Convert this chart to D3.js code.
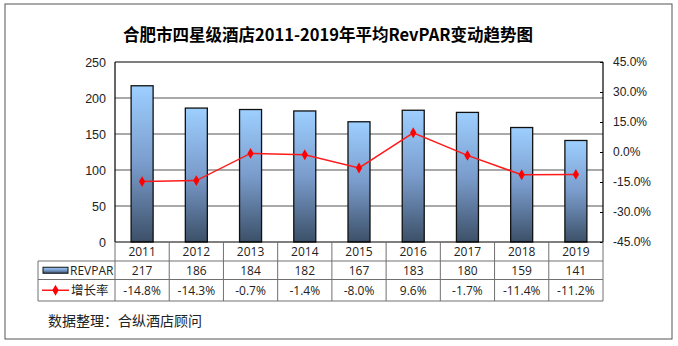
<!DOCTYPE html>
<html><head><meta charset="utf-8">
<script src="https://cdn.jsdelivr.net/npm/d3@7"></script>
<style>body{margin:0;background:#fff}</style>
</head><body>
<script>
const years = ["2011","2012","2013","2014","2015","2016","2017","2018","2019"];
const revpar = [217,186,184,182,167,183,180,159,141];
const growth = [-14.8,-14.3,-0.7,-1.4,-8.0,9.6,-1.7,-11.4,-11.2];
const leftTicks = [0,50,100,150,200,250];
const rightTicks = [-45,-30,-15,0,15,30,45];
const title = "合肥市四星级酒店2011-2019年平均RevPAR变动趋势图";
const source = "数据整理：合纵酒店顾问";

const pct = d => d.toFixed(1) + "%";

const W=678,H=346;
const svg=d3.select("body").append("svg").attr("width",W).attr("height",H);
const defs=svg.append("defs");
const g1=defs.append("linearGradient").attr("id","bg").attr("x1",0).attr("y1",0).attr("x2",0).attr("y2",1);
g1.append("stop").attr("offset","0%").attr("stop-color","#9dcfff");
g1.append("stop").attr("offset","50%").attr("stop-color","#7a9ccc");
g1.append("stop").attr("offset","100%").attr("stop-color","#3c5068");

svg.append("rect").attr("x",5).attr("y",4).attr("width",667).attr("height",335)
  .attr("fill","#fff").attr("stroke","#555").attr("stroke-width",1);

svg.append("text").attr("x",328).attr("y",41).attr("text-anchor","middle")
  .attr("font-family","Noto Sans CJK SC").attr("font-weight","bold").attr("font-size",16.5)
  .text(title);

const L=115,R=603,T=62,B=242;
const x=d3.scaleBand().domain(years).range([L,R]);
const y=d3.scaleLinear().domain([0,250]).range([B,T]);
const y2=d3.scaleLinear().domain([-45,45]).range([B,T]);

svg.append("g").selectAll("line").data(leftTicks.filter(d=>d>0&&d<250)).join("line")
  .attr("x1",L).attr("x2",R).attr("y1",d=>y(d)).attr("y2",d=>y(d))
  .attr("stroke","#8c8c8c").attr("stroke-width",1.3);

const bw=22;
svg.append("g").selectAll("rect").data(revpar).join("rect")
  .attr("x",(d,i)=>x(years[i])+x.bandwidth()/2-bw/2).attr("width",bw)
  .attr("y",d=>y(d)).attr("height",d=>B-y(d))
  .attr("fill","url(#bg)").attr("stroke","#111").attr("stroke-width",1.3);

svg.append("line").attr("x1",L).attr("x2",R).attr("y1",T).attr("y2",T).attr("stroke","#000").attr("stroke-width",1.2);
svg.append("line").attr("x1",L).attr("x2",L).attr("y1",T).attr("y2",B).attr("stroke","#000").attr("stroke-width",1.2);
svg.append("line").attr("x1",R).attr("x2",R).attr("y1",T).attr("y2",B).attr("stroke","#000").attr("stroke-width",1.2);
svg.append("line").attr("x1",L).attr("x2",R).attr("y1",B).attr("y2",B).attr("stroke","#000").attr("stroke-width",1.2);

const la=svg.append("g").attr("transform",`translate(${L},0)`)
  .call(d3.axisLeft(y).tickValues(leftTicks).tickSize(0).tickPadding(9).tickFormat(d=>String(d)));
la.select(".domain").remove();
la.selectAll("text").attr("font-family","Liberation Sans, Arial").attr("font-size",12.5).attr("fill","#222");

const ra=svg.append("g").attr("transform",`translate(${R},0)`)
  .call(d3.axisRight(y2).tickValues(rightTicks).tickSizeInner(-3).tickSizeOuter(0).tickPadding(10).tickFormat(pct));
ra.select(".domain").remove();
ra.selectAll("line").attr("stroke","#000");
ra.selectAll("text").attr("font-family","Liberation Sans, Arial").attr("font-size",12).attr("fill","#222");

const line=d3.line().x((d,i)=>x(years[i])+x.bandwidth()/2).y(d=>y2(d));
svg.append("path").datum(growth).attr("d",line).attr("fill","none").attr("stroke","#ff1a1a").attr("stroke-width",1.5);
const sym=d3.symbol().type(d3.symbolDiamond).size(34);
svg.append("g").selectAll("path").data(growth).join("path")
  .attr("transform",(d,i)=>`translate(${x(years[i])+x.bandwidth()/2},${y2(d)})`)
  .attr("d",sym).attr("fill","#ff0000");

const r1=B, r2=261, r3=279.5, r4=301, TL=38;
const tc="#707070";
const tg=svg.append("g");
tg.selectAll("line.v").data(d3.range(years.length+1)).join("line")
  .attr("x1",i=>L+i*x.step()).attr("x2",i=>L+i*x.step()).attr("y1",r1).attr("y2",r4)
  .attr("stroke",tc).attr("stroke-width",1);
[r2,r3,r4].forEach(yy=>tg.append("line").attr("x1",TL).attr("x2",R).attr("y1",yy).attr("y2",yy).attr("stroke",tc).attr("stroke-width",1));
tg.append("line").attr("x1",TL).attr("x2",TL).attr("y1",r2).attr("y2",r4).attr("stroke",tc);

const tf="Open Sans, Noto Sans, sans-serif";
tg.selectAll("text.yr").data(years).join("text").attr("x",d=>x(d)+x.bandwidth()/2).attr("y",(r1+r2)/2+4.5)
  .attr("text-anchor","middle").attr("font-family",tf).attr("font-size",12).attr("fill","#222").text(d=>d);
tg.selectAll("text.rv").data(revpar).join("text").attr("x",(d,i)=>x(years[i])+x.bandwidth()/2).attr("y",(r2+r3)/2+4.5)
  .attr("text-anchor","middle").attr("font-family",tf).attr("font-size",12).attr("fill","#222").text(d=>d);
tg.selectAll("text.gr").data(growth).join("text").attr("x",(d,i)=>x(years[i])+x.bandwidth()/2).attr("y",(r3+r4)/2+4.5)
  .attr("text-anchor","middle").attr("font-family",tf).attr("font-size",12).attr("fill","#222").text(pct);

tg.append("rect").attr("x",43).attr("y",(r2+r3)/2-3).attr("width",25).attr("height",6)
  .attr("fill","url(#bg)").attr("stroke","#111").attr("stroke-width",1);
tg.append("text").attr("x",70).attr("y",(r2+r3)/2+4.5).attr("font-family",tf).attr("font-size",12).attr("fill","#222").text("REVPAR");
tg.append("line").attr("x1",42).attr("x2",69).attr("y1",(r3+r4)/2).attr("y2",(r3+r4)/2).attr("stroke","#ff1a1a").attr("stroke-width",1.5);
tg.append("path").attr("transform",`translate(55.5,${(r3+r4)/2})`).attr("d",sym).attr("fill","#ff0000");
tg.append("text").attr("x",71).attr("y",(r3+r4)/2+4.5).attr("font-family","Noto Sans CJK SC").attr("font-size",12.5).attr("fill","#222").text("增长率");

svg.append("text").attr("x",48).attr("y",326).attr("font-family","Noto Sans CJK SC").attr("font-size",14).attr("fill","#222").text(source);
</script>
</body></html>
